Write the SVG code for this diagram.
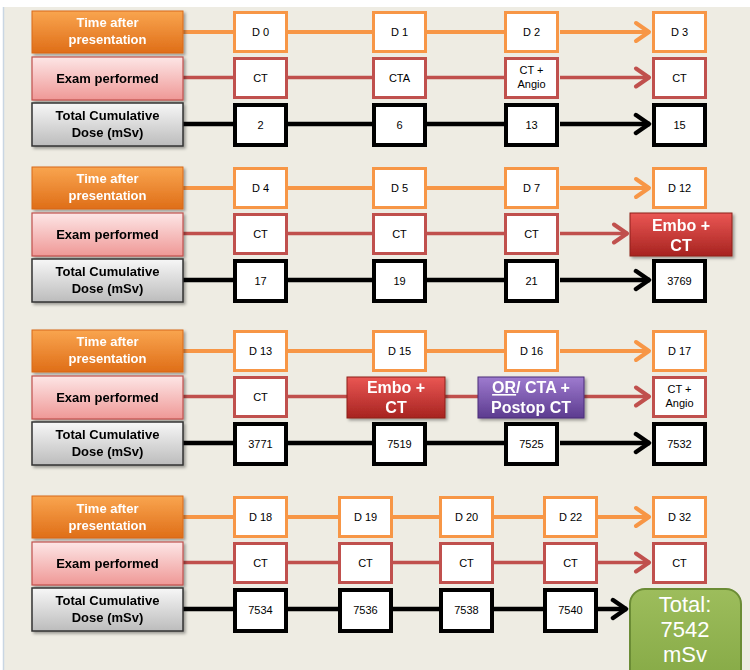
<svg xmlns="http://www.w3.org/2000/svg" width="750" height="670" viewBox="0 0 750 670">
<defs>
<linearGradient id="gOrange" x1="0" y1="0" x2="0" y2="1"><stop offset="0" stop-color="#F9A54F"/><stop offset="1" stop-color="#DF6E18"/></linearGradient>
<linearGradient id="gPink" x1="0" y1="0" x2="0" y2="1"><stop offset="0" stop-color="#FDE6E6"/><stop offset="1" stop-color="#EF9896"/></linearGradient>
<linearGradient id="gGray" x1="0" y1="0" x2="0" y2="1"><stop offset="0" stop-color="#F7F7F7"/><stop offset="1" stop-color="#BCBCBC"/></linearGradient>
<linearGradient id="gRed" x1="0" y1="0" x2="0" y2="1"><stop offset="0" stop-color="#EA5754"/><stop offset="1" stop-color="#A72320"/></linearGradient>
<linearGradient id="gPurple" x1="0" y1="0" x2="0" y2="1"><stop offset="0" stop-color="#9E7BCF"/><stop offset="1" stop-color="#5C3B8F"/></linearGradient>
<linearGradient id="gGreen" x1="0" y1="0" x2="0" y2="1"><stop offset="0" stop-color="#9DBD5C"/><stop offset="1" stop-color="#84A844"/></linearGradient>
<filter id="sh" x="-10%" y="-10%" width="130%" height="140%"><feDropShadow dx="2" dy="2" stdDeviation="1.5" flood-color="#000" flood-opacity="0.35"/></filter>
<marker id="aO" markerUnits="userSpaceOnUse" markerWidth="22" markerHeight="24" viewBox="0 0 22 24" refX="18" refY="12" orient="auto"><path d="M4,3 L17,12 L4,21" fill="none" stroke="#F79646" stroke-width="4" stroke-linecap="round" stroke-linejoin="round"/></marker>
<marker id="aR" markerUnits="userSpaceOnUse" markerWidth="22" markerHeight="24" viewBox="0 0 22 24" refX="18" refY="12" orient="auto"><path d="M4,3 L17,12 L4,21" fill="none" stroke="#C0504D" stroke-width="4" stroke-linecap="round" stroke-linejoin="round"/></marker>
<marker id="aK" markerUnits="userSpaceOnUse" markerWidth="22" markerHeight="24" viewBox="0 0 22 24" refX="18" refY="12" orient="auto"><path d="M4,3 L17,12 L4,21" fill="none" stroke="#000" stroke-width="4.5" stroke-linecap="round" stroke-linejoin="round"/></marker>
</defs>
<style>
.lt{font-family:"Liberation Sans",Arial,sans-serif;font-weight:bold;font-size:13px;text-anchor:middle}
.lo{fill:url(#gOrange);stroke:#D8691A;stroke-width:1}
.lp{fill:url(#gPink);stroke:#C0504D;stroke-width:1.2}
.lg{fill:url(#gGray);stroke:#333;stroke-width:1.5}
.no{fill:#fff;stroke:#F79646;stroke-width:3}
.nr{fill:#fff;stroke:#C0504D;stroke-width:3}
.nk{fill:#fff;stroke:#000;stroke-width:4}
.nt{font-family:"Liberation Sans",Arial,sans-serif;font-size:11px;fill:#000;text-anchor:middle}
.bt{font-family:"Liberation Sans",Arial,sans-serif;font-weight:bold;font-size:16px;fill:#fff;text-anchor:middle}
.gt{font-family:"Liberation Sans",Arial,sans-serif;font-size:22px;fill:#fff;text-anchor:middle}
.co{fill:none;stroke:#F79646;stroke-width:4}
.cr{fill:none;stroke:#C0504D;stroke-width:3.5}
.ck{fill:none;stroke:#000;stroke-width:4.5}
</style>
<rect x="0" y="0" width="750" height="670" fill="#fff"/>
<rect x="4" y="7" width="746" height="663" fill="#EEECE3"/>
<line x1="3.5" y1="7" x2="3.5" y2="670" stroke="#C9D6E3" stroke-width="1.5"/>

<g id="connectors">
<path class="co" d="M183,32 H233 M288,32 H372 M427,32 H504"/>
<path class="co" d="M560,32 H650" marker-end="url(#aO)"/>
<path class="cr" d="M183,77.5 H233 M288,77.5 H372 M427,77.5 H504"/>
<path class="cr" d="M560,77.5 H650" marker-end="url(#aR)"/>
<path class="ck" d="M183,124 H233 M288,124 H372 M427,124 H504"/>
<path class="ck" d="M560,124 H650" marker-end="url(#aK)"/>
<path class="co" d="M183,188 H233 M288,188 H372 M427,188 H504"/>
<path class="co" d="M560,188 H650" marker-end="url(#aO)"/>
<path class="cr" d="M183,233.5 H233 M288,233.5 H372 M427,233.5 H504"/>
<path class="cr" d="M560,233.5 H628" marker-end="url(#aR)"/>
<path class="ck" d="M183,280 H233 M288,280 H372 M427,280 H504"/>
<path class="ck" d="M560,280 H650" marker-end="url(#aK)"/>
<path class="co" d="M183,351 H233 M288,351 H372 M427,351 H504"/>
<path class="co" d="M560,351 H650" marker-end="url(#aO)"/>
<path class="cr" d="M183,396.5 H233 M288,396.5 H347 M445,396.5 H478"/>
<path class="cr" d="M584,396.5 H650" marker-end="url(#aR)"/>
<path class="ck" d="M183,443 H233 M288,443 H372 M427,443 H504"/>
<path class="ck" d="M560,443 H650" marker-end="url(#aK)"/>
<path class="co" d="M183,517 H233 M288,517 H338 M393,517 H439 M494,517 H543"/>
<path class="co" d="M598,517 H650" marker-end="url(#aO)"/>
<path class="cr" d="M183,562.5 H233 M288,562.5 H338 M393,562.5 H439 M494,562.5 H543"/>
<path class="cr" d="M598,562.5 H650" marker-end="url(#aR)"/>
<path class="ck" d="M183,609 H233 M288,609 H338 M393,609 H439 M494,609 H543"/>
<path class="ck" d="M598,609 H627" marker-end="url(#aK)"/>
</g>

<g id="s1-time" filter="url(#sh)"><rect class="lo" x="32" y="11" width="151" height="42"/><text class="lt" fill="#fff" x="107.5" y="27">Time after</text><text class="lt" fill="#fff" x="107.5" y="44">presentation</text></g>
<g id="s1-exam" filter="url(#sh)"><rect class="lp" x="32" y="57" width="151" height="43"/><text class="lt" x="107.5" y="83">Exam performed</text></g>
<g id="s1-dose" filter="url(#sh)"><rect class="lg" x="32" y="103" width="151" height="43"/><text class="lt" x="107.5" y="120">Total Cumulative</text><text class="lt" x="107.5" y="137">Dose (mSv)</text></g>
<g id="s1-d0"><rect class="no" x="234.5" y="12.5" width="52" height="39"/><text class="nt" x="260.5" y="36">D 0</text></g>
<g id="s1-d1"><rect class="no" x="373.5" y="12.5" width="52" height="39"/><text class="nt" x="399.5" y="36">D 1</text></g>
<g id="s1-d2"><rect class="no" x="505.5" y="12.5" width="52" height="39"/><text class="nt" x="531.5" y="36">D 2</text></g>
<g id="s1-d3"><rect class="no" x="653.5" y="12.5" width="52" height="39"/><text class="nt" x="679.5" y="36">D 3</text></g>
<g id="s1-e0"><rect class="nr" x="234.5" y="58.5" width="52" height="39"/><text class="nt" x="260.5" y="82">CT</text></g>
<g id="s1-e1"><rect class="nr" x="373.5" y="58.5" width="52" height="39"/><text class="nt" x="399.5" y="82">CTA</text></g>
<g id="s1-e2"><rect class="nr" x="505.5" y="58.5" width="52" height="39"/><text class="nt" x="531.5" y="74">CT +</text><text class="nt" x="531.5" y="88">Angio</text></g>
<g id="s1-e3"><rect class="nr" x="653.5" y="58.5" width="52" height="39"/><text class="nt" x="679.5" y="82">CT</text></g>
<g id="s1-t0"><rect class="nk" x="235" y="105" width="51" height="40"/><text class="nt" x="260.5" y="129">2</text></g>
<g id="s1-t1"><rect class="nk" x="374" y="105" width="51" height="40"/><text class="nt" x="399.5" y="129">6</text></g>
<g id="s1-t2"><rect class="nk" x="506" y="105" width="51" height="40"/><text class="nt" x="531.5" y="129">13</text></g>
<g id="s1-t3"><rect class="nk" x="654" y="105" width="51" height="40"/><text class="nt" x="679.5" y="129">15</text></g>

<g id="s2-time" filter="url(#sh)"><rect class="lo" x="32" y="167" width="151" height="42"/><text class="lt" fill="#fff" x="107.5" y="183">Time after</text><text class="lt" fill="#fff" x="107.5" y="200">presentation</text></g>
<g id="s2-exam" filter="url(#sh)"><rect class="lp" x="32" y="213" width="151" height="43"/><text class="lt" x="107.5" y="239">Exam performed</text></g>
<g id="s2-dose" filter="url(#sh)"><rect class="lg" x="32" y="259" width="151" height="43"/><text class="lt" x="107.5" y="276">Total Cumulative</text><text class="lt" x="107.5" y="293">Dose (mSv)</text></g>
<g id="s2-d4"><rect class="no" x="234.5" y="168.5" width="52" height="39"/><text class="nt" x="260.5" y="192">D 4</text></g>
<g id="s2-d5"><rect class="no" x="373.5" y="168.5" width="52" height="39"/><text class="nt" x="399.5" y="192">D 5</text></g>
<g id="s2-d7"><rect class="no" x="505.5" y="168.5" width="52" height="39"/><text class="nt" x="531.5" y="192">D 7</text></g>
<g id="s2-d12"><rect class="no" x="653.5" y="168.5" width="52" height="39"/><text class="nt" x="679.5" y="192">D 12</text></g>
<g id="s2-e0"><rect class="nr" x="234.5" y="214.5" width="52" height="39"/><text class="nt" x="260.5" y="238">CT</text></g>
<g id="s2-e1"><rect class="nr" x="373.5" y="214.5" width="52" height="39"/><text class="nt" x="399.5" y="238">CT</text></g>
<g id="s2-e2"><rect class="nr" x="505.5" y="214.5" width="52" height="39"/><text class="nt" x="531.5" y="238">CT</text></g>
<g id="s2-e3" filter="url(#sh)"><rect x="630" y="213" width="102" height="43" fill="url(#gRed)" stroke="#8E1F1D" stroke-width="1"/><text class="bt" x="681" y="231">Embo +</text><text class="bt" x="681" y="251">CT</text></g>
<g id="s2-t0"><rect class="nk" x="235" y="261" width="51" height="40"/><text class="nt" x="260.5" y="285">17</text></g>
<g id="s2-t1"><rect class="nk" x="374" y="261" width="51" height="40"/><text class="nt" x="399.5" y="285">19</text></g>
<g id="s2-t2"><rect class="nk" x="506" y="261" width="51" height="40"/><text class="nt" x="531.5" y="285">21</text></g>
<g id="s2-t3"><rect class="nk" x="654" y="261" width="51" height="40"/><text class="nt" x="679.5" y="285">3769</text></g>

<g id="s3-time" filter="url(#sh)"><rect class="lo" x="32" y="330" width="151" height="42"/><text class="lt" fill="#fff" x="107.5" y="346">Time after</text><text class="lt" fill="#fff" x="107.5" y="363">presentation</text></g>
<g id="s3-exam" filter="url(#sh)"><rect class="lp" x="32" y="376" width="151" height="43"/><text class="lt" x="107.5" y="402">Exam performed</text></g>
<g id="s3-dose" filter="url(#sh)"><rect class="lg" x="32" y="422" width="151" height="43"/><text class="lt" x="107.5" y="439">Total Cumulative</text><text class="lt" x="107.5" y="456">Dose (mSv)</text></g>
<g id="s3-d13"><rect class="no" x="234.5" y="331.5" width="52" height="39"/><text class="nt" x="260.5" y="355">D 13</text></g>
<g id="s3-d15"><rect class="no" x="373.5" y="331.5" width="52" height="39"/><text class="nt" x="399.5" y="355">D 15</text></g>
<g id="s3-d16"><rect class="no" x="505.5" y="331.5" width="52" height="39"/><text class="nt" x="531.5" y="355">D 16</text></g>
<g id="s3-d17"><rect class="no" x="653.5" y="331.5" width="52" height="39"/><text class="nt" x="679.5" y="355">D 17</text></g>
<g id="s3-e0"><rect class="nr" x="234.5" y="377.5" width="52" height="39"/><text class="nt" x="260.5" y="401">CT</text></g>
<g id="s3-e1" filter="url(#sh)"><rect x="347" y="377" width="98" height="41" fill="url(#gRed)" stroke="#8E1F1D" stroke-width="1"/><text class="bt" x="396" y="393">Embo +</text><text class="bt" x="396" y="413">CT</text></g>
<g id="s3-e2" filter="url(#sh)"><rect x="478" y="377" width="106" height="41" fill="url(#gPurple)" stroke="#4B2E78" stroke-width="1"/><text class="bt" x="531" y="393"><tspan text-decoration="underline">OR</tspan>/ CTA +</text><text class="bt" x="531" y="413">Postop CT</text></g>
<g id="s3-e3"><rect class="nr" x="653.5" y="377.5" width="52" height="39"/><text class="nt" x="679.5" y="393">CT +</text><text class="nt" x="679.5" y="407">Angio</text></g>
<g id="s3-t0"><rect class="nk" x="235" y="424" width="51" height="40"/><text class="nt" x="260.5" y="448">3771</text></g>
<g id="s3-t1"><rect class="nk" x="374" y="424" width="51" height="40"/><text class="nt" x="399.5" y="448">7519</text></g>
<g id="s3-t2"><rect class="nk" x="506" y="424" width="51" height="40"/><text class="nt" x="531.5" y="448">7525</text></g>
<g id="s3-t3"><rect class="nk" x="654" y="424" width="51" height="40"/><text class="nt" x="679.5" y="448">7532</text></g>

<g id="s4-time" filter="url(#sh)"><rect class="lo" x="32" y="496" width="151" height="42"/><text class="lt" fill="#fff" x="107.5" y="513">Time after</text><text class="lt" fill="#fff" x="107.5" y="530">presentation</text></g>
<g id="s4-exam" filter="url(#sh)"><rect class="lp" x="32" y="542" width="151" height="43"/><text class="lt" x="107.5" y="568">Exam performed</text></g>
<g id="s4-dose" filter="url(#sh)"><rect class="lg" x="32" y="588" width="151" height="43"/><text class="lt" x="107.5" y="605">Total Cumulative</text><text class="lt" x="107.5" y="622">Dose (mSv)</text></g>
<g id="s4-d18"><rect class="no" x="234.5" y="497.5" width="52" height="39"/><text class="nt" x="260.5" y="521">D 18</text></g>
<g id="s4-d19"><rect class="no" x="339.5" y="497.5" width="52" height="39"/><text class="nt" x="365.5" y="521">D 19</text></g>
<g id="s4-d20"><rect class="no" x="440.5" y="497.5" width="52" height="39"/><text class="nt" x="466.5" y="521">D 20</text></g>
<g id="s4-d22"><rect class="no" x="544.5" y="497.5" width="52" height="39"/><text class="nt" x="570.5" y="521">D 22</text></g>
<g id="s4-d32"><rect class="no" x="653.5" y="497.5" width="52" height="39"/><text class="nt" x="679.5" y="521">D 32</text></g>
<g id="s4-e0"><rect class="nr" x="234.5" y="543.5" width="52" height="39"/><text class="nt" x="260.5" y="567">CT</text></g>
<g id="s4-e1"><rect class="nr" x="339.5" y="543.5" width="52" height="39"/><text class="nt" x="365.5" y="567">CT</text></g>
<g id="s4-e2"><rect class="nr" x="440.5" y="543.5" width="52" height="39"/><text class="nt" x="466.5" y="567">CT</text></g>
<g id="s4-e3"><rect class="nr" x="544.5" y="543.5" width="52" height="39"/><text class="nt" x="570.5" y="567">CT</text></g>
<g id="s4-e4"><rect class="nr" x="653.5" y="543.5" width="52" height="39"/><text class="nt" x="679.5" y="567">CT</text></g>
<g id="s4-t0"><rect class="nk" x="235" y="590" width="51" height="41"/><text class="nt" x="260.5" y="614">7534</text></g>
<g id="s4-t1"><rect class="nk" x="340" y="590" width="51" height="41"/><text class="nt" x="365.5" y="614">7536</text></g>
<g id="s4-t2"><rect class="nk" x="441" y="590" width="51" height="41"/><text class="nt" x="466.5" y="614">7538</text></g>
<g id="s4-t3"><rect class="nk" x="545" y="590" width="51" height="41"/><text class="nt" x="570.5" y="614">7540</text></g>
<g id="s4-total"><rect x="630" y="589" width="111" height="100" rx="15" ry="15" fill="url(#gGreen)" stroke="#6B8C35" stroke-width="2"/><text class="gt" x="685" y="612">Total:</text><text class="gt" x="685" y="637">7542</text><text class="gt" x="685" y="662">mSv</text></g>
</svg>
